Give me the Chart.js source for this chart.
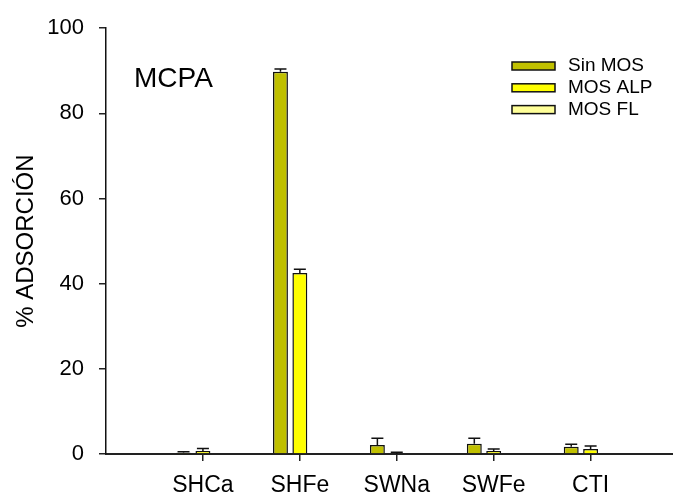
<!DOCTYPE html>
<html>
<head>
<meta charset="utf-8">
<script src="https://cdn.jsdelivr.net/npm/chart.js@4/dist/chart.umd.min.js"></script>
<style>
  html, body { margin: 0; padding: 0; background: #fff; }
  #wrap { width: 673px; height: 497px; }
</style>
</head>
<body>
<div id="wrap"><canvas id="grafico" width="673" height="497"></canvas></div>
<script>
const categorias = ["SHCa", "SHFe", "SWNa", "SWFe", "CTI"];
const series = ["Sin MOS", "MOS ALP", "MOS FL"];
const sinMos = [0.3, 89.8, 2.1, 2.4, 1.7];
const sinMosErr = [0.2, 0.6, 1.6, 1.3, 0.6];
const mosAlp = [0.7, 42.5, 0, 0.7, 1.2];
const mosAlpErr = [0.6, 0.9, 0.4, 0.5, 0.7];
const mosFl = [0, 0, 0, 0, 0];
const mosFlErr = [0, 0, 0, 0, 0];
const yTicks = [0, 20, 40, 60, 80, 100];
const colores = ["#c0c000", "#ffff00", "#ffff99"];

const fuente = "'Liberation Sans', Arial, sans-serif";

function puntos(valores) {
  return valores.map((v, i) => ({ x: i + 1, y: v }));
}

const errores = [sinMosErr, mosAlpErr, mosFlErr];

// barras de error (solo hacia arriba)
const barrasError = {
  id: "barrasError",
  afterDatasetsDraw(chart) {
    const ctx = chart.ctx;
    const y = chart.scales.y;
    ctx.save();
    ctx.strokeStyle = "#111";
    ctx.lineWidth = 1.5;
    chart.data.datasets.forEach((ds, d) => {
      const meta = chart.getDatasetMeta(d);
      meta.data.forEach((bar, i) => {
        const err = errores[d][i];
        if (!err) return;
        const v = ds.data[i].y;
        const y0 = y.getPixelForValue(v);
        const y1 = y.getPixelForValue(v + err);
        ctx.beginPath();
        ctx.moveTo(bar.x, y0);
        ctx.lineTo(bar.x, y1);
        ctx.moveTo(bar.x - 6, y1);
        ctx.lineTo(bar.x + 6, y1);
        ctx.stroke();
      });
    });
    ctx.restore();
  },
};

// leyenda y rotulo
const leyenda = {
  id: "leyenda",
  afterDraw(chart) {
    const ctx = chart.ctx;
    ctx.save();
    ctx.fillStyle = "#000";
    ctx.font = "28px " + fuente;
    ctx.textBaseline = "middle";
    ctx.fillText("MCPA", 134, 79);

    ctx.font = "19px " + fuente;
    chart.data.datasets.forEach((ds, d) => {
      const yc = 66 + d * 21.8;
      ctx.fillStyle = ds.backgroundColor;
      ctx.fillRect(512, yc - 4, 43, 8);
      ctx.strokeStyle = "#111";
      ctx.lineWidth = 1.5;
      ctx.strokeRect(512, yc - 4, 43, 8);
      ctx.fillStyle = "#000";
      ctx.fillText(ds.label, 568, yc);
    });
    ctx.restore();
  },
};

new Chart(document.getElementById("grafico"), {
  type: "bar",
  data: {
    datasets: [
      { label: series[0], data: puntos(sinMos), backgroundColor: colores[0] },
      { label: series[1], data: puntos(mosAlp), backgroundColor: colores[1] },
      { label: series[2], data: puntos(mosFl), backgroundColor: colores[2] },
    ],
  },
  options: {
    responsive: false,
    animation: false,
    layout: { padding: { top: 26, right: 0, left: 0, bottom: 0 } },
    datasets: {
      bar: {
        borderColor: "#111",
        borderWidth: 1.5,
        categoryPercentage: 0.6,
        barPercentage: 0.77,
      },
    },
    plugins: {
      legend: { display: false },
      tooltip: { enabled: false },
    },
    scales: {
      x: {
        type: "linear",
        min: 0,
        max: 5.85,
        offset: false,
        grid: { display: true, offset: false, drawOnChartArea: false, tickLength: 7, color: "#222", lineWidth: 1.5 },
        border: { color: "#222", width: 2 },
        ticks: {
          stepSize: 1,
          autoSkip: false,
          maxRotation: 0,
          color: "#000",
          padding: 11,
          font: { family: fuente, size: 23 },
          callback: (v) => categorias[v - 1] || "",
        },
        afterBuildTicks(scale) {
          scale.ticks = scale.ticks.filter((t) => t.value >= 1 && t.value <= categorias.length);
        },
        afterFit(scale) {
          scale.height = 43;
        },
      },
      y: {
        min: 0,
        max: 100,
        grid: { display: true, drawOnChartArea: false, tickLength: 7, color: "#222", lineWidth: 1.5 },
        border: { color: "#111", width: 1.5 },
        afterBuildTicks(scale) {
          scale.ticks = yTicks.map((v) => ({ value: v }));
        },
        ticks: {
          color: "#000",
          padding: 15,
          font: { family: fuente, size: 22 },
        },
        title: {
          display: true,
          text: "% ADSORCIÓN",
          color: "#000",
          padding: { top: 12, bottom: 0 },
          font: { family: fuente, size: 24 },
        },
        afterFit(scale) {
          scale.width = 106;
        },
      },
    },
  },
  plugins: [barrasError, leyenda],
});
</script>
</body>
</html>
